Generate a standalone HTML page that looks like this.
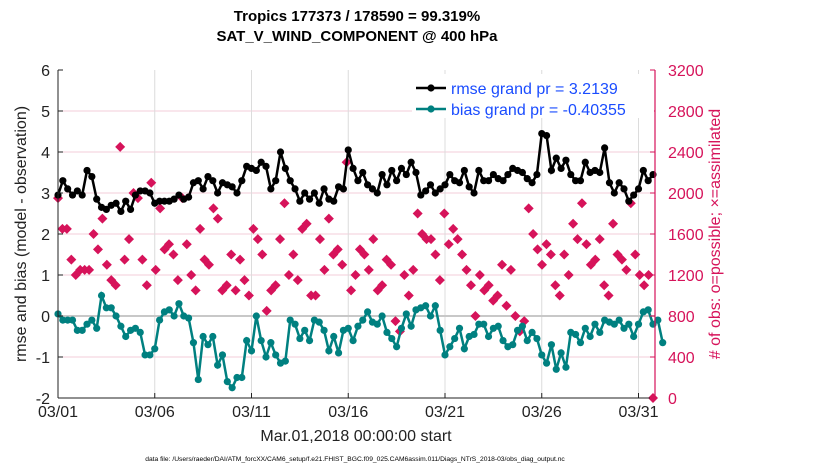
<!DOCTYPE html>
<html><head><meta charset="utf-8"><style>
body{margin:0;background:#fff;width:830px;height:470px;overflow:hidden;font-family:"Liberation Sans",sans-serif}
</style></head><body>
<svg id="chart" width="830" height="470" xmlns="http://www.w3.org/2000/svg" font-family="Liberation Sans, sans-serif"></svg>
<script>
const dateTicks=["03/01","03/06","03/11","03/16","03/21","03/26","03/31"];
const dateTickDays=[0,5,10,15,20,25,30];
const leftTicks=[-2,-1,0,1,2,3,4,5,6];
const rightTicks=[0,400,800,1200,1600,2000,2400,2800,3200];
const rmse=[2.95,3.3,3.1,2.95,3.05,2.95,3.55,3.4,2.85,2.65,2.6,2.7,2.75,2.55,2.8,2.6,2.95,3.05,3.05,3.0,
2.75,2.8,2.8,2.8,2.85,2.95,2.85,2.9,3.25,3.3,3.1,3.4,3.3,3.0,3.25,3.2,3.15,3.0,3.3,3.65,
3.6,3.55,3.75,3.65,3.1,3.3,4.0,3.6,3.3,3.1,2.8,3.0,2.85,3.0,2.75,3.1,2.85,2.8,3.15,3.1,
4.05,3.6,3.3,3.5,3.2,3.1,3.0,3.45,3.2,3.55,3.3,3.6,3.45,3.75,3.5,2.95,3.05,3.2,3.0,3.1,
3.2,3.45,3.3,3.25,3.55,3.15,3.0,3.55,3.3,3.3,3.45,3.35,3.3,3.45,3.6,3.55,3.5,3.35,3.25,3.45,
4.45,4.4,3.55,3.85,3.6,3.8,3.45,3.3,3.3,3.75,3.5,3.55,3.5,4.1,3.25,3.0,3.25,3.1,2.8,2.95,
3.1,3.55,3.3,3.45];
const bias=[0.05,-0.1,-0.1,-0.1,-0.35,-0.35,-0.2,-0.1,-0.3,0.5,0.2,0.2,0.0,-0.25,-0.5,-0.35,-0.3,-0.4,-0.95,-0.95,
-0.8,-0.1,0.1,0.15,0.0,0.3,0.0,-0.05,-0.65,-1.55,-0.5,-0.7,-0.5,-1.2,-0.95,-1.6,-1.75,-1.5,-1.5,-0.6,
-0.85,0.0,-0.6,-1.0,-0.65,-0.95,-1.15,-1.1,-0.1,-0.2,-0.55,-0.35,-0.6,-0.1,-0.15,-0.35,-0.85,-0.5,-0.9,-0.35,
-0.3,-0.6,-0.25,-0.1,0.1,-0.15,-0.2,0.0,-0.4,-0.55,-0.75,-0.3,0.05,-0.25,0.15,0.2,0.25,0.0,0.25,-0.35,
-0.95,-0.75,-0.55,-0.3,-0.8,-0.5,-0.45,-0.2,-0.2,-0.5,-0.3,-0.25,-0.6,-0.75,-0.7,-0.35,-0.25,-0.6,-0.4,-0.55,
-0.95,-1.15,-0.7,-1.3,-0.9,-1.25,-0.4,-0.45,-0.65,-0.3,-0.5,-0.2,-0.4,-0.1,-0.15,-0.2,-0.1,-0.3,-0.2,-0.5,
-0.2,0.1,0.15,-0.2,-0.1,-0.65];
const obs=[1950,1650,1650,1350,1200,1250,1250,1250,1600,1450,1750,1300,1150,1100,2450,1350,1550,2000,1950,1350,
1100,2100,1250,1850,1450,1500,1400,1150,1950,1500,1200,1050,1650,1350,1300,1850,1750,1050,1100,1400,
1050,1350,1150,1000,1650,1550,1400,850,1050,1100,1550,1900,1200,1400,1150,1650,1700,1000,1000,1550,
1250,1750,1400,1450,1300,2300,1050,1200,1450,1400,1250,1550,1050,1100,1350,1300,750,650,1200,1000,
1250,1800,1600,1550,1550,1400,1150,1800,1500,1650,1550,1400,1250,1100,800,1200,1050,1100,950,1000,
1300,900,1250,800,650,750,1850,1600,1450,1300,1500,1400,1100,1000,1400,1200,1700,1550,1900,1500,
1300,1350,1550,1100,1000,1700,1400,1350,1250,1900,1400,1200,1100,1200,0];
const NS="http://www.w3.org/2000/svg",svg=document.getElementById('chart');
const X0=58,X1=655,DPX=19.35,YT=70,YB=398;
const xs=d=>X0+d*DPX;
const yl=v=>YB-(v+2)/8*(YB-YT);
const yr=v=>YB-v/3200*(YB-YT);
function mk(t,a,txt){const e=document.createElementNS(NS,t);for(const k in a)e.setAttribute(k,a[k]);if(txt!==undefined)e.textContent=txt;svg.appendChild(e);return e;}
leftTicks.forEach(v=>{if(v>-2&&v<6&&v!==0){const g=mk('line',{x1:X0,x2:X1,y1:yl(v),y2:yl(v),stroke:'#f3ccd9','stroke-width':1});

}});
dateTickDays.forEach(d=>{if(d>0){const g=mk('line',{x1:xs(d),x2:xs(d),y1:YT,y2:YB,stroke:'#dcdcdc','stroke-width':1});

}});
const z=mk('line',{x1:X0,x2:X1,y1:yl(0),y2:yl(0),stroke:'#c8c8c8','stroke-width':2});


const n=obs.length;
obs.forEach((v,i)=>{const d=i*30.75/(n-1);const x=xs(d),y=yr(v);
const m=mk('path',{d:`M${x-5},${y}L${x},${y-5}L${x+5},${y}L${x},${y+5}Z`,fill:'#d6135a'});

});
function series(arr,col,name){const pts=arr.map((v,i)=>[xs(i*0.25),yl(v)]);
const p=mk('polyline',{points:pts.map(p=>p.join(',')).join(' '),fill:'none',stroke:col,'stroke-width':2.5});


pts.forEach(q=>{const c=mk('circle',{cx:q[0],cy:q[1],r:3.6,fill:col});

});}
series(bias,'#008080','bias');
series(rmse,'#000','rmse');
const la=mk('line',{x1:X0,x2:X0,y1:YT,y2:YB,stroke:'#222','stroke-width':1});


const ba=mk('line',{x1:X0,x2:X1,y1:YB,y2:YB,stroke:'#222','stroke-width':1});


const ra=mk('line',{x1:X1,x2:X1,y1:YT,y2:YB,stroke:'#d6135a','stroke-width':1.2});


leftTicks.forEach(v=>{const t=mk('text',{x:X0-8,y:yl(v)+6,'text-anchor':'end','font-size':16,fill:'#222'},v);


mk('line',{x1:X0,x2:X0+5,y1:yl(v),y2:yl(v),stroke:'#222'});});
rightTicks.forEach(v=>{const t=mk('text',{x:X1+13,y:yr(v)+6,'font-size':16,fill:'#d6135a'},v);


mk('line',{x1:X1-5,x2:X1,y1:yr(v),y2:yr(v),stroke:'#d6135a'});});
dateTicks.forEach((s,i)=>{const x=xs(dateTickDays[i]);const t=mk('text',{x:x,y:417,'text-anchor':'middle','font-size':16,fill:'#222'},s);


mk('line',{x1:x,x2:x,y1:YB-5,y2:YB,stroke:'#222'});});
</script>
<svg style="position:absolute;left:0;top:0" width="830" height="470" xmlns="http://www.w3.org/2000/svg" font-family="Liberation Sans, sans-serif">
<text x="357" y="21" text-anchor="middle" font-size="15" font-weight="bold" fill="#000">Tropics 177373 / 178590 = 99.319%</text>
<text x="357" y="41" text-anchor="middle" font-size="15" font-weight="bold" fill="#000">SAT_V_WIND_COMPONENT @ 400 hPa</text>
<text transform="translate(26,234) rotate(-90)" text-anchor="middle" font-size="16" fill="#222">rmse and bias (model - observation)</text>
<text transform="translate(720,234) rotate(-90)" text-anchor="middle" font-size="16" fill="#d6135a"># of obs: o=possible; ×=assimilated</text>
<text x="356" y="441" text-anchor="middle" font-size="16" fill="#222">Mar.01,2018 00:00:00 start</text>
<text x="355" y="461" text-anchor="middle" font-size="6.7" fill="#000">data file: /Users/raeder/DAI/ATM_forcXX/CAM6_setup/f.e21.FHIST_BGC.f09_025.CAM6assim.011/Diags_NTrS_2018-03/obs_diag_output.nc</text>
<g>
<rect x="412" y="74" width="242" height="44" fill="#fff"/>
<line x1="416" x2="446" y1="88" y2="88" stroke="#000" stroke-width="2.5"/><circle cx="431" cy="88" r="3.6" fill="#000"/>
<text x="451" y="94" font-size="16" fill="#1a4cff">rmse grand pr = 3.2139</text>
<line x1="416" x2="446" y1="109" y2="109" stroke="#008080" stroke-width="2.5"/><circle cx="431" cy="109" r="3.6" fill="#008080"/>
<text x="451" y="115" font-size="16" fill="#1a4cff">bias grand pr = -0.40355</text>
</g>
</svg>
</body></html>
